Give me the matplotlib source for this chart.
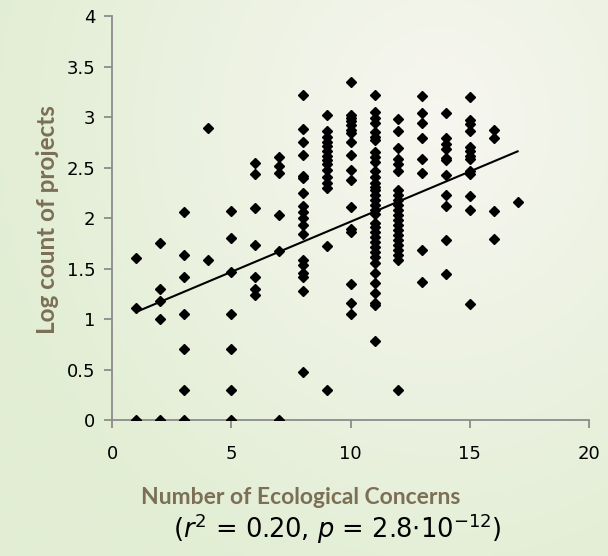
import numpy as np
import matplotlib
matplotlib.use('Agg')
import matplotlib.pyplot as plt

plt.rcParams['font.family'] = ['DejaVu Sans']
plt.rcParams['mathtext.fontset'] = 'dejavusans'

# Log count of projects, grouped by number of ecological concerns
concerns = [1, 2, 3, 4, 5, 6, 7, 8, 9, 10, 11, 12, 13, 14, 15, 16, 17]
log_counts = [
    [1.60, 1.11, 0.0],
    [1.75, 1.30, 1.18, 1.0, 0.0],
    [2.06, 1.63, 1.42, 1.05, 0.70, 0.30, 0.0],
    [2.89, 1.58],
    [2.07, 1.80, 1.47, 1.05, 0.70, 0.30, 0.0],
    [2.54, 2.44, 2.10, 1.73, 1.42, 1.30, 1.24],
    [2.60, 2.51, 2.45, 2.03, 1.67, 0.0],
    [3.22, 2.88, 2.75, 2.62, 2.42, 2.40, 2.25, 2.12, 2.06, 2.00, 1.93, 1.84,
     1.58, 1.53, 1.46, 1.42, 1.28, 0.48],
    [3.02, 2.86, 2.80, 2.75, 2.71, 2.66, 2.61, 2.57, 2.53, 2.48, 2.41, 2.35,
     2.30, 1.72, 0.30],
    [3.35, 3.02, 2.99, 2.96, 2.92, 2.87, 2.84, 2.75, 2.62, 2.48, 2.38, 2.11,
     1.89, 1.86, 1.35, 1.16, 1.05],
    [3.22, 3.05, 2.99, 2.94, 2.85, 2.80, 2.77, 2.65, 2.60, 2.55, 2.47, 2.41,
     2.35, 2.31, 2.28, 2.23, 2.18, 2.13, 2.08, 2.04, 1.95, 1.91, 1.86, 1.81,
     1.76, 1.71, 1.66, 1.61, 1.55, 1.46, 1.36, 1.26, 1.16, 1.14, 0.78],
    [2.98, 2.86, 2.69, 2.58, 2.53, 2.47, 2.28, 2.23, 2.18, 2.13, 2.08, 2.03,
     1.98, 1.93, 1.88, 1.83, 1.78, 1.73, 1.68, 1.63, 1.58, 0.30],
    [3.21, 3.04, 2.94, 2.79, 2.58, 2.45, 1.68, 1.37],
    [3.04, 2.79, 2.73, 2.68, 2.59, 2.57, 2.43, 2.23, 2.12, 1.78, 1.45],
    [3.20, 2.97, 2.93, 2.86, 2.70, 2.66, 2.61, 2.58, 2.47, 2.44, 2.22, 2.08, 1.15],
    [2.87, 2.79, 2.07, 1.79],
    [2.16],
]

# trend line
trend_x = [1, 17]
trend_slope = 0.0994
trend_intercept = 0.97

x_ticks = [0, 5, 10, 15, 20]
y_ticks = [0, 0.5, 1, 1.5, 2, 2.5, 3, 3.5, 4]
y_tick_labels = ['0', '0.5', '1', '1.5', '2', '2.5', '3', '3.5', '4']

xs = np.concatenate([[c] * len(v) for c, v in zip(concerns, log_counts)])
ys = np.concatenate(log_counts)

fig = plt.figure(figsize=(6.08, 5.56), dpi=100)

# background gradient (greenish edges, whiter near top right)
bg = fig.add_axes([0, 0, 1, 1], zorder=-1)
gx, gy = np.meshgrid(np.linspace(0, 1, 300), np.linspace(0, 1, 300))
d = np.clip(np.hypot((gx - 0.72) / 0.75, (gy - 0.22) / 0.9), 0, 1)
light = np.array([247, 246, 240]) / 255
dark = np.array([226, 238, 212]) / 255
img = light[None, None, :] * (1 - d[..., None]) + dark[None, None, :] * d[..., None]
bg.imshow(img, extent=[0, 1, 0, 1], origin='upper', aspect='auto')
bg.axis('off')

ax = fig.add_axes([0.1845, 0.2446, 0.7845, 0.7266])
ax.patch.set_alpha(0)

ax.plot(xs, ys, linestyle='none', marker='D', ms=5.4, color='black', zorder=3)
tx = np.array(trend_x)
ax.plot(tx, trend_slope * tx + trend_intercept, color='black', lw=1.5, zorder=2)

ax.set_xlim(0, 20)
ax.set_ylim(0, 4)
ax.set_xticks(x_ticks)
ax.set_yticks(y_ticks)
ax.set_yticklabels(y_tick_labels)
for s in ['top', 'right']:
    ax.spines[s].set_visible(False)
for s in ['left', 'bottom']:
    ax.spines[s].set_color('#8c8c8c')
    ax.spines[s].set_linewidth(1.3)
ax.tick_params(axis='both', direction='out', length=6, width=1.3, color='#8c8c8c',
               labelsize=13, pad=6)
ax.tick_params(axis='x', pad=12)

label_col = '#7b6f55'
fig.text(48 / 608, 1 - 220 / 556, 'Log count of projects', rotation=90,
         ha='center', va='center', fontsize=17.5, fontweight='bold', color=label_col,
         family=['Lato', 'DejaVu Sans'])
fig.text(301 / 608, 1 - 497 / 556, 'Number of Ecological Concerns',
         ha='center', va='center', fontsize=16.5, fontweight='bold', color=label_col,
         family=['Lato', 'DejaVu Sans'])
fig.text(337 / 608, 1 - 529 / 556,
         r'($\it{r}^2$ = 0.20, $\it{p}$ = 2.8$\cdot$10$^{\mathrm{-12}}$)',
         ha='center', va='center', fontsize=18.5, color='black')

fig.savefig('out.png', dpi=100)
